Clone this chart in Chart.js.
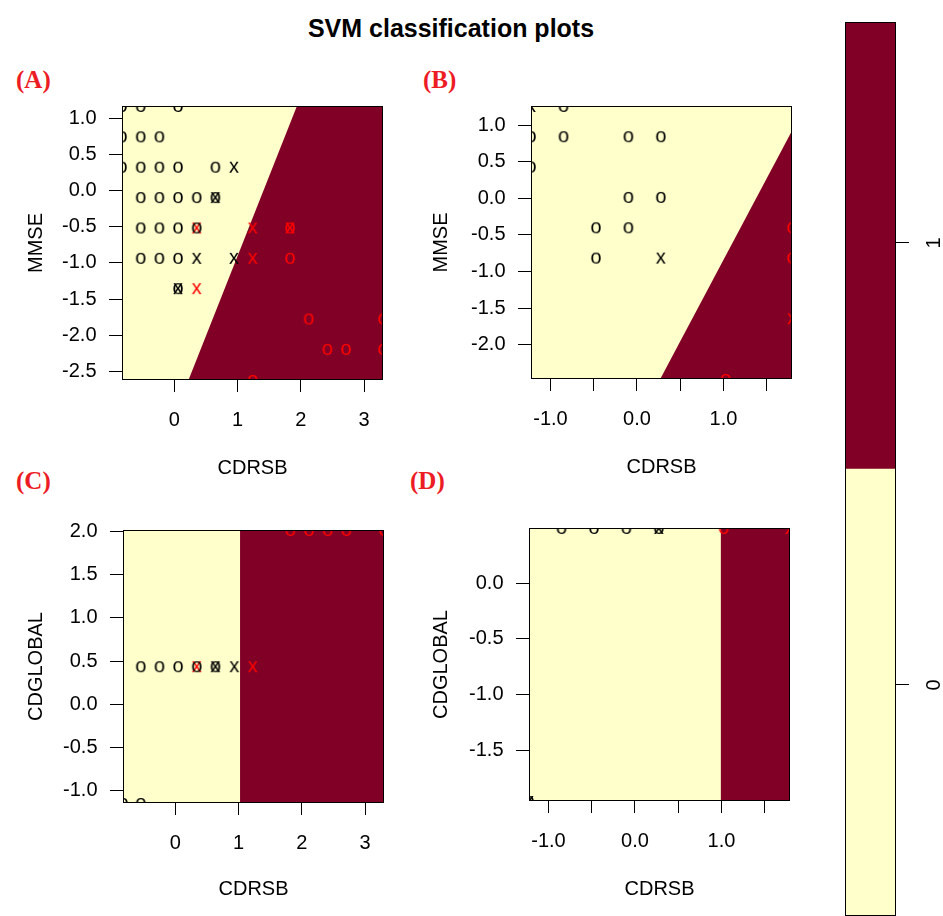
<!DOCTYPE html>
<html><head><meta charset="utf-8">
<script src="https://cdn.jsdelivr.net/npm/chart.js@4/dist/chart.umd.min.js"></script>
<style>
html,body{margin:0;padding:0;background:#fff;}
body{width:943px;height:916px;position:relative;overflow:hidden;}
canvas{position:absolute;}
.title{position:absolute;left:0;width:902px;top:16px;text-align:center;font:bold 25px/25px "Liberation Sans",Arial,sans-serif;color:#000;}
.tag{position:absolute;font:bold 25px/25px "Liberation Serif",serif;color:#ED1C24;}
</style></head><body>
<div class="title">SVM classification plots</div>
<div class="tag" style="left:16px;top:67px">(A)</div>
<div class="tag" style="left:423px;top:67px">(B)</div>
<div class="tag" style="left:16px;top:468px">(C)</div>
<div class="tag" style="left:410px;top:468px">(D)</div>
<canvas id="cA" width="400" height="400" style="left:0;top:90px"></canvas>
<canvas id="cB" width="410" height="400" style="left:400px;top:90px"></canvas>
<canvas id="cC" width="400" height="401" style="left:0;top:515px"></canvas>
<canvas id="cD" width="410" height="401" style="left:400px;top:515px"></canvas>
<canvas id="cK" width="133" height="916" style="left:810px;top:0"></canvas>
<script>
// ---------- DATA ----------
// Panel A: CDRSB (x) vs MMSE (y)
const aRangeX = [-0.825, 3.30];
const aRangeY = [-2.62, 1.17];
const aClass1Edge = [[0.226, -2.62], [1.94, 1.17], [3.30, 1.17]];
const aClass0O = [[-0.825,1.17],[-0.53,1.17],[0.06,1.17],
  [-0.825,0.75],[-0.53,0.75],[-0.235,0.75],
  [-0.825,0.33],[-0.53,0.33],[-0.235,0.33],[0.06,0.33],[0.65,0.33],
  [-0.53,-0.09],[-0.235,-0.09],[0.06,-0.09],[0.355,-0.09],[0.65,-0.09],
  [-0.53,-0.51],[-0.235,-0.51],[0.06,-0.51],[0.355,-0.51],
  [-0.53,-0.93],[-0.235,-0.93],[0.06,-0.93],[0.06,-1.35]];
const aClass0X = [[0.945,0.33],[0.65,-0.09],[0.355,-0.93],[0.945,-0.93],[0.06,-1.35]];
const aClass1O = [[1.83,-0.51],[1.83,-0.93],[2.125,-1.77],[3.30,-1.77],[2.42,-2.19],[2.715,-2.19],[3.30,-2.19],[1.24,-2.62]];
const aClass1X = [[0.355,-0.51],[1.24,-0.51],[1.83,-0.51],[1.24,-0.93],[0.355,-1.35]];
const aTicksX = [0, 1, 2, 3];
const aLabelsX = ['0', '1', '2', '3'];
const aTicksY = [-2.5, -2, -1.5, -1, -0.5, 0, 0.5, 1];
const aLabelsY = ['-2.5', '-2.0', '-1.5', '-1.0', '-0.5', '0.0', '0.5', '1.0'];

// Panel B: CDRSB (x) vs MMSE (y)
const bRangeX = [-1.225, 1.792];
const bRangeY = [-2.47, 1.263];
const bClass1Edge = [[0.269, -2.47], [1.792, 0.924]];
const bClass0O = [[-0.85,1.263],[-1.225,0.85],[-0.85,0.85],[-0.10,0.85],[0.275,0.85],
  [-1.225,0.435],[-0.10,0.02],[0.275,0.02],[-0.475,-0.395],[-0.10,-0.395],[-0.475,-0.81]];
const bClass0X = [[-1.225,1.263],[0.275,-0.81]];
const bClass1O = [[1.792,-0.395],[1.792,-0.81],[1.025,-2.47]];
const bClass1X = [[1.792,-1.64]];
const bTicksX = [-1, -0.5, 0, 0.5, 1, 1.5];
const bLabelsX = ['-1.0', '', '0.0', '', '1.0', ''];
const bTicksY = [-2, -1.5, -1, -0.5, 0, 0.5, 1];
const bLabelsY = ['-2.0', '-1.5', '-1.0', '-0.5', '0.0', '0.5', '1.0'];

// Panel C: CDRSB (x) vs CDGLOBAL (y)
const cRangeX = [-0.825, 3.30];
const cRangeY = [-1.147, 2.02];
const cClass1Edge = [[1.025, 2.02], [3.30, 2.02]];
const cClass0O = [[-0.545,0.44],[-0.25,0.44],[0.045,0.44],[0.34,0.44],[0.635,0.44],[-0.825,-1.147],[-0.545,-1.147]];
const cClass0X = [[0.635,0.44],[0.935,0.44]];
const cClass1O = [[1.82,2.02],[2.115,2.02],[2.41,2.02],[2.705,2.02],[3.30,2.02]];
const cClass1X = [[0.34,0.44],[1.225,0.44]];
const cTicksX = [0, 1, 2, 3];
const cLabelsX = ['0', '1', '2', '3'];
const cTicksY = [-1, -0.5, 0, 0.5, 1, 1.5, 2];
const cLabelsY = ['-1.0', '-0.5', '0.0', '0.5', '1.0', '1.5', '2.0'];

// Panel D: CDRSB (x) vs CDGLOBAL (y)
const dRangeX = [-1.225, 1.792];
const dRangeY = [-1.95, 0.493];
const dClass1Edge = [[0.99, 0.493], [1.792, 0.493]];
const dClass0O = [[-0.85,0.493],[-0.475,0.493],[-0.10,0.493],[0.275,0.493],[-1.225,-1.95]];
const dClass0X = [[0.275,0.493],[-1.225,-1.95]];
const dClass1O = [[1.025,0.493]];
const dClass1X = [[1.792,0.493]];
const dTicksX = [-1, -0.5, 0, 0.5, 1, 1.5];
const dLabelsX = ['-1.0', '', '0.0', '', '1.0', ''];
const dTicksY = [-1.5, -1, -0.5, 0];
const dLabelsY = ['-1.5', '-1.0', '-0.5', '0.0'];

// Colour key
const keyTicks = [0, 1];
const keyLabels = ['0', '1'];
const keyBands = [[-0.523, 0.49], [0.49, 1.5]];

// ---------- STYLE ----------
const LIGHT = '#FFFFCC', DARK = '#800026';
const FONT = '"Liberation Sans", Arial, sans-serif';
Chart.defaults.font.family = FONT;
Chart.defaults.color = '#000';

function glyph(ch, color) {
  const c = document.createElement('canvas');
  c.width = 26; c.height = 26;
  const g = c.getContext('2d');
  g.font = '20px ' + FONT;
  g.fillStyle = color;
  g.textAlign = 'center';
  g.textBaseline = 'alphabetic';
  const m = g.measureText(ch);
  const y = 13 + (m.actualBoundingBoxAscent - m.actualBoundingBoxDescent) / 2;
  g.fillText(ch, 13, y);
  return c;
}
const G0O = glyph('o', '#000'), G0X = glyph('x', '#000');
const G1O = glyph('o', '#FF0000'), G1X = glyph('x', '#FF0000');

const toXY = arr => arr.map(p => ({x: p[0], y: p[1]}));

const framePlugin = {
  id: 'frame',
  afterDatasetsDraw(chart) {
    const {ctx, chartArea: a} = chart;
    ctx.save();
    ctx.strokeStyle = '#000';
    ctx.lineWidth = 1;
    const l = Math.round(a.left), t = Math.round(a.top), r = Math.round(a.right), b = Math.round(a.bottom);
    ctx.strokeRect(l + 0.5, t + 0.5, r - l - 1, b - t - 1);
    ctx.restore();
  }
};

function markers(pts, img) {
  return {type: 'scatter', data: toXY(pts), pointStyle: img, pointRadius: 6, showLine: false, clip: 0, order: 0};
}
function region(pts, color, ord) {
  return {type: 'line', data: toXY(pts), borderColor: 'rgba(0,0,0,0)', borderWidth: 0,
    backgroundColor: color, pointRadius: 0, fill: 'start', tension: 0, order: ord};
}
function noPad(a) { a.paddingTop = 0; a.paddingBottom = 0; a.paddingLeft = 0; a.paddingRight = 0; }

function panel(id, p, geo) {
  new Chart(document.getElementById(id), {
    type: 'scatter',
    data: {datasets: [
      markers(p.o0, G0O), markers(p.x0, G0X), markers(p.o1, G1O), markers(p.x1, G1X),
      region(p.edge1, DARK, 1),
      region([[p.rx[0], p.ry[1]], [p.rx[1], p.ry[1]]], LIGHT, 2)
    ]},
    options: {
      responsive: false, animation: false, events: [],
      layout: {padding: {left: 0, top: geo.padTop, right: geo.padRight, bottom: 0}},
      plugins: {legend: {display: false}, tooltip: {enabled: false}, title: {display: false}},
      scales: {
        x: {
          type: 'linear', min: p.rx[0], max: p.rx[1],
          afterBuildTicks: a => { a.ticks = p.tx.map(v => ({value: v})); },
          afterFit: a => { a.height = geo.xAxisH; noPad(a); },
          ticks: {autoSkip: false, maxRotation: 0, minRotation: 0, padding: 16, color: '#000',
            font: {size: 20}, callback: (v, i) => p.lx[i]},
          grid: {drawOnChartArea: false, drawTicks: true, tickLength: 12, color: '#000', tickColor: '#000', lineWidth: 1},
          border: {display: false},
          title: {display: true, text: p.xTitle, color: '#000', font: {size: 20}, padding: {top: 0, bottom: geo.xTitlePad}}
        },
        y: {
          type: 'linear', min: p.ry[0], max: p.ry[1],
          afterBuildTicks: a => { a.ticks = p.ty.map(v => ({value: v})); },
          afterFit: a => { a.width = geo.yAxisW; noPad(a); },
          ticks: {autoSkip: false, padding: 12.5, color: '#000', font: {size: 20}, callback: (v, i) => p.ly[i]},
          grid: {drawOnChartArea: false, drawTicks: true, tickLength: 13, color: '#000', tickColor: '#000', lineWidth: 1},
          border: {display: false},
          title: {display: true, text: p.yTitle, color: '#000', font: {size: 20}, padding: {top: geo.yTitlePad, bottom: 0}}
        }
      }
    },
    plugins: [framePlugin]
  });
}

panel('cA', {rx: aRangeX, ry: aRangeY, edge1: aClass1Edge, o0: aClass0O, x0: aClass0X, o1: aClass1O, x1: aClass1X,
  tx: aTicksX, lx: aLabelsX, ty: aTicksY, ly: aLabelsY, xTitle: 'CDRSB', yTitle: 'MMSE'},
  {padTop: 16, padRight: 17, xAxisH: 110, yAxisW: 122, xTitlePad: 10, yTitlePad: 24});
panel('cB', {rx: bRangeX, ry: bRangeY, edge1: bClass1Edge, o0: bClass0O, x0: bClass0X, o1: bClass1O, x1: bClass1X,
  tx: bTicksX, lx: bLabelsX, ty: bTicksY, ly: bLabelsY, xTitle: 'CDRSB', yTitle: 'MMSE'},
  {padTop: 16, padRight: 18, xAxisH: 111, yAxisW: 131, xTitlePad: 10.5, yTitlePad: 29});
panel('cC', {rx: cRangeX, ry: cRangeY, edge1: cClass1Edge, o0: cClass0O, x0: cClass0X, o1: cClass1O, x1: cClass1X,
  tx: cTicksX, lx: cLabelsX, ty: cTicksY, ly: cLabelsY, xTitle: 'CDRSB', yTitle: 'CDGLOBAL'},
  {padTop: 15, padRight: 16, xAxisH: 113, yAxisW: 123, xTitlePad: 15, yTitlePad: 24});
panel('cD', {rx: dRangeX, ry: dRangeY, edge1: dClass1Edge, o0: dClass0O, x0: dClass0X, o1: dClass1O, x1: dClass1X,
  tx: dTicksX, lx: dLabelsX, ty: dTicksY, ly: dLabelsY, xTitle: 'CDRSB', yTitle: 'CDGLOBAL'},
  {padTop: 13, padRight: 20, xAxisH: 115, yAxisW: 129, xTitlePad: 15, yTitlePad: 29.5});

// Colour key
const keyLabelPlugin = {
  id: 'keyLabels',
  afterDraw(chart) {
    const s = chart.scales.y, ctx = chart.ctx;
    ctx.save();
    ctx.fillStyle = '#000';
    ctx.font = '20px ' + FONT;
    ctx.textAlign = 'center';
    ctx.textBaseline = 'middle';
    s.ticks.forEach((t, i) => {
      ctx.save();
      ctx.translate(s.left + 38, s.getPixelForValue(t.value));
      ctx.rotate(-Math.PI / 2);
      ctx.fillText(keyLabels[i], 0, 0);
      ctx.restore();
    });
    ctx.restore();
  }
};
new Chart(document.getElementById('cK'), {
  type: 'bar',
  data: {labels: ['key'], datasets: [
    {data: [keyBands[1]], backgroundColor: DARK, borderWidth: 0, grouped: false, barPercentage: 1, categoryPercentage: 1},
    {data: [keyBands[0]], backgroundColor: LIGHT, borderWidth: 0, grouped: false, barPercentage: 1, categoryPercentage: 1}
  ]},
  options: {
    responsive: false, animation: false, events: [],
    layout: {padding: {left: 35, top: 22, right: 0, bottom: 0}},
    plugins: {legend: {display: false}, tooltip: {enabled: false}},
    scales: {
      x: {display: false},
      y: {
        position: 'right', min: keyBands[0][0], max: keyBands[1][1],
        afterBuildTicks: a => { a.ticks = keyTicks.map(v => ({value: v})); },
        afterFit: a => { a.width = 47; noPad(a); },
        ticks: {display: false},
        grid: {drawOnChartArea: false, drawTicks: true, tickLength: 13, color: '#000', tickColor: '#000', lineWidth: 1},
        border: {display: false}
      }
    }
  },
  plugins: [framePlugin, keyLabelPlugin]
});
</script>
</body></html>
